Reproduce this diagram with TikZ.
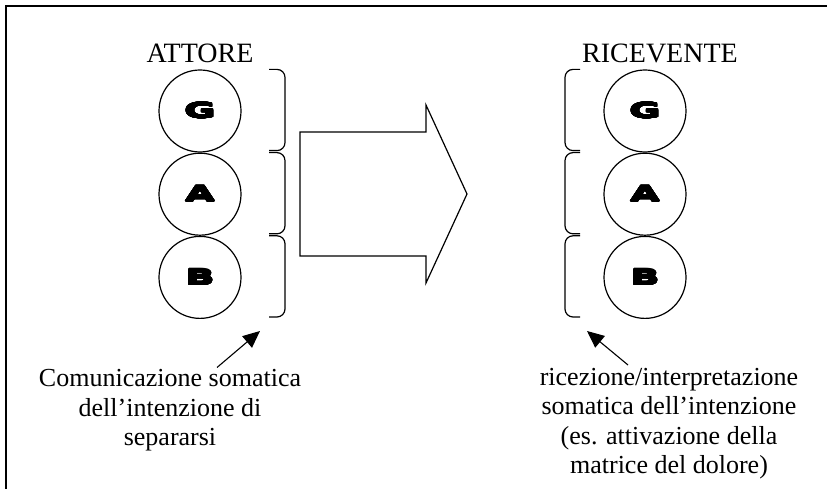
\documentclass[tikz,border=0pt]{standalone}
\usepackage{fontspec}
\setmainfont{Liberation Serif}
\newfontfamily\blackfont[FakeStretch=1.8]{DejaVu Sans}
\usepackage[copies]{contour}
\contourlength{0.7pt}
\contournumber{24}
\usepackage{tikz}
\usetikzlibrary{arrows.meta, positioning, calc}
\tikzstyle{stage} = [circle, draw=black, line width=1.2pt, minimum size=82pt, inner sep=0pt, font=\blackfont\bfseries\fontsize{21}{22}\selectfont]
\tikzstyle{heading} = [font=\fontsize{28}{30}\selectfont, inner sep=0pt]
\tikzstyle{caption} = [font=\fontsize{26}{29.5}\selectfont, align=center, inner sep=0pt]
\tikzstyle{bracket} = [line width=1.2pt, rounded corners=8pt]
\tikzstyle{pointer} = [line width=1.1pt, -{Triangle[length=17pt,width=15pt]}]
\tikzstyle{bigarrow} = [draw=black, line width=1.2pt, fill=white]

\begin{document}
\begin{tikzpicture}[x=1pt, y=1pt, node distance=0pt]
	\useasboundingbox (0,0) rectangle (827,489);
	% frame
	\draw[line width=2pt] (6,0) -- (6,483) -- (827,483);
	
	% attore
	\node (ag) at (200,378) [stage] {\contour{black}{G}};
	\node (aa) [stage, below=of ag] {\contour{black}{A}};
	\node (ab) [stage, below=of aa] {\contour{black}{B}};
	\node (attore) [heading, above=7pt of ag, anchor=base] {ATTORE};
	
	% ricevente
	\node (rg) at (645,378) [stage] {\contour{black}{G}};
	\node (ra) [stage, below=of rg] {\contour{black}{A}};
	\node (rb) [stage, below=of ra] {\contour{black}{B}};
	\node (ricevente) [heading, above=7pt of rg, anchor=base, xshift=15pt] {RICEVENTE};
	
	% brackets
	\foreach \s in {ag, aa, ab} {
		\draw[bracket] ([xshift=69pt] \s.north) -| ([xshift=85pt, yshift=2pt] \s.south) -- ([xshift=69pt, yshift=2pt] \s.south);
	}
	\foreach \s in {rg, ra, rb} {
		\draw[bracket] ([xshift=-65pt] \s.north) -| ([xshift=-80pt, yshift=2pt] \s.south) -- ([xshift=-65pt, yshift=2pt] \s.south);
	}
	
	% big arrow
	\draw[bigarrow] (300,357) -- (426,357) -- (426,384) -- (467,295) -- (426,206) -- (426,233) -- (300,233) -- cycle;
	
	% captions
	\node (comm) at (170,119.5) [caption, anchor=north] {Comunicazione somatica\\dell'intenzione di\\separarsi};
	\node (ric) at (669,121) [caption, anchor=north] {ricezione/interpretazione\\somatica dell'intenzione\\(es. attivazione della\\matrice del dolore)};
	
	\coordinate (lefttip) at ([xshift=60pt, yshift=-12pt] ab.south);
	\coordinate (righttip) at ([xshift=-58pt, yshift=-12pt] rb.south);
	
	% arrows
	\draw[pointer] ([xshift=47pt, yshift=2pt] comm.north) -- (lefttip);
	\draw[pointer] ([xshift=-41pt, yshift=3pt] ric.north) -- (righttip);
\end{tikzpicture}
\end{document}
